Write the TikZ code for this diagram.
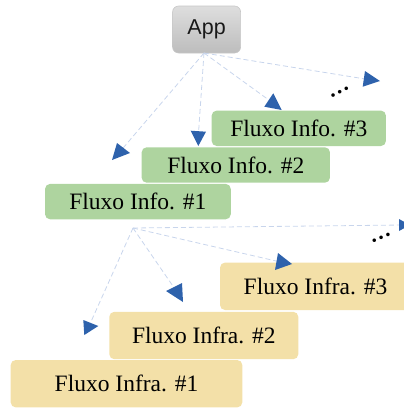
\documentclass[tikz,border=0pt]{standalone}
\usepackage{fontspec}
\setmainfont{Liberation Serif}
\newfontfamily\appfont{Liberation Sans}
\definecolor{infogreen}{HTML}{AED49F}
\definecolor{infrayellow}{HTML}{F3E0A8}
\definecolor{linkblue}{HTML}{C8D5EC}
\definecolor{headblue}{HTML}{2E62AC}
\begin{document}
\begin{tikzpicture}[x=1pt,y=-1pt,
  box/.style={rounded corners=5pt, inner sep=0pt, font=\fontsize{23.5}{26}\selectfont, text=black},
  info/.style={box, fill=infogreen, minimum height=35.4pt},
  infra/.style={box, fill=infrayellow, minimum height=47.4pt},
  appbox/.style={rounded corners=6pt, inner sep=0pt, top color=black!13, bottom color=black!26, draw=black!22, line width=0.6pt, font=\appfont\fontsize{21.5}{24}\selectfont, text=black!90},
  link/.style={draw=linkblue, dash pattern=on 5pt off 3pt, line width=0.8pt},
  head/.style={fill=headblue},
  dots/.style={inner sep=0pt, anchor=base west, font=\bfseries\fontsize{22}{24}\selectfont}]
\useasboundingbox (0,0) rectangle (404,408);
\clip (0,0) rectangle (404,408);

\node[appbox, minimum width=68pt, minimum height=47pt] (app) at (206.6,29.5) {App};

% link end points
\coordinate (src1) at (204,53);
\coordinate (e1) at (119.7,152);
\coordinate (e2) at (198.3,136);
\coordinate (e3) at (273,103);
\coordinate (e4) at (369,79.6);
\coordinate (src2) at (133,228);
\coordinate (ea) at (88.6,327);
\coordinate (eb) at (177,292);
\coordinate (ec) at (281.7,262.3);
\coordinate (ed) at (402.7,225);

\draw[link] (src1) -- (e1);
\draw[link] (src1) -- (e2);
\draw[link] (src1) -- (e3);
\draw[link] (src1) -- (e4);
\draw[link] (src2) -- (ea);
\draw[link] (src2) -- (eb);
\draw[link] (src2) -- (ec);
\draw[link] (src2) -- (ed);

\node[info, minimum width=174.3pt] (info3) at (298.8,128.3) {Fluxo Info. \#3};
\node[info, minimum width=188.3pt] (info2) at (235.8,165) {Fluxo Info. \#2};
\node[info, minimum width=185.7pt] (info1) at (137.9,201.6) {Fluxo Info. \#1};

\node[infra, minimum width=191pt] (infra3) at (315.5,286.3) {Fluxo Infra. \#3};
\node[infra, minimum width=189pt] (infra2) at (203.8,335.5) {Fluxo Infra. \#2};
\node[infra, minimum width=231.6pt] (infra1) at (126.5,383.7) {Fluxo Infra. \#1};

% arrowheads
\fill[head] (112,160) -- (117,143) -- (130,153) -- cycle;
\fill[head] (190.7,130.7) -- (206,131.7) -- (198.3,146) -- cycle;
\fill[head] (273.3,93.3) -- (264.3,106.7) -- (281.7,110) -- cycle;
\fill[head] (365,71) -- (380,81) -- (362.7,86.7) -- cycle;
\fill[head] (83.3,320) -- (98.3,326) -- (84.3,335) -- cycle;
\fill[head] (166,291) -- (182,283) -- (183,302) -- cycle;
\fill[head] (275,270) -- (278,253) -- (292,264) -- cycle;
\fill[head] (399,219) -- (399,231) -- (410,225) -- cycle;

% ellipses
\node[dots, rotate=27] (dots1) at (330.5,98.5) {…};
\node[dots, rotate=23] (dots2) at (371.5,244) {…};
\end{tikzpicture}
\end{document}
